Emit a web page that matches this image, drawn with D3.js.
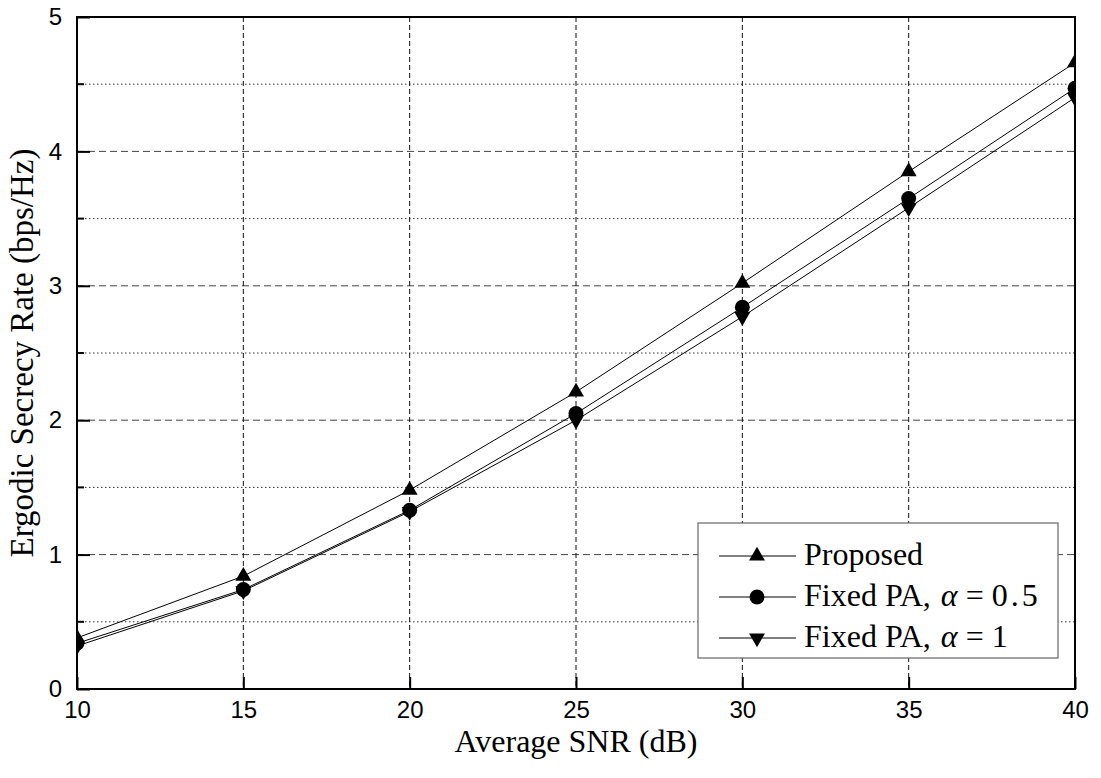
<!DOCTYPE html>
<html>
<head>
<meta charset="utf-8">
<script src="https://cdn.jsdelivr.net/npm/d3@7"></script>
<style>
  html, body { margin: 0; padding: 0; background: #fff; }
  svg { display: block; }
</style>
</head>
<body>
<svg id="chart" width="1101" height="778"></svg>
<script>
// Average SNR (dB) sample points
const snr = [10, 15, 20, 25, 30, 35, 40];
// Ergodic secrecy rate (bps/Hz) per scheme
const proposed  = [0.38, 0.84, 1.48, 2.21, 3.02, 3.85, 4.66];
const fixedHalf = [0.34, 0.74, 1.33, 2.05, 2.84, 3.65, 4.47];
const fixedOne  = [0.32, 0.73, 1.32, 2.00, 2.77, 3.58, 4.40];
// Tick values
const xTicks = [10, 15, 20, 25, 30, 35, 40];
const yTicks = [0, 1, 2, 3, 4, 5];
const yMinor = [0.5, 1.5, 2.5, 3.5, 4.5];

const series = [
  { name: "Proposed", values: proposed, marker: "up" },
  { name: "Fixed PA, ", alphaVal: "0.5", values: fixedHalf, marker: "circle" },
  { name: "Fixed PA, ", alphaVal: "1", values: fixedOne, marker: "down" }
];

const svg = d3.select("#chart");
const pLeft = 77, pRight = 1075, pTop = 17, pBottom = 689;

const x = d3.scaleLinear().domain([10, 40]).range([pLeft, pRight]);
const y = d3.scaleLinear().domain([0, 5]).range([pBottom, pTop]);

svg.append("defs").append("clipPath").attr("id", "plotClip")
  .append("rect").attr("x", pLeft).attr("y", pTop)
  .attr("width", pRight - pLeft).attr("height", pBottom - pTop);

// Grid: dotted minor rows, dashed major rows and columns
const grid = svg.append("g");
grid.selectAll(".ymin").data(yMinor).join("line")
  .attr("x1", pLeft).attr("x2", pRight)
  .attr("y1", d => y(d)).attr("y2", d => y(d))
  .attr("stroke", "#333").attr("stroke-width", 1)
  .attr("stroke-dasharray", "1.5,2.5");
grid.selectAll(".ymaj").data(yTicks.filter(d => d > 0 && d < 5)).join("line")
  .attr("x1", pLeft).attr("x2", pRight)
  .attr("y1", d => y(d)).attr("y2", d => y(d))
  .attr("stroke", "#444").attr("stroke-width", 1)
  .attr("stroke-dasharray", "7,4");
grid.selectAll(".xmaj").data(xTicks.filter(d => d > 10 && d < 40)).join("line")
  .attr("y1", pTop).attr("y2", pBottom)
  .attr("x1", d => x(d)).attr("x2", d => x(d))
  .attr("stroke", "#111").attr("stroke-width", 1)
  .attr("stroke-dasharray", "5,3");

// Series lines and markers
const line = d3.line().x((d, i) => x(snr[i])).y(d => y(d));
const plot = svg.append("g").attr("clip-path", "url(#plotClip)");

const tri = d3.symbol().type(d3.symbolTriangle).size(110);
const circ = d3.symbol().type(d3.symbolCircle).size(175);

function drawMarker(g, kind, cx, cy) {
  if (kind === "circle") {
    g.append("path").attr("d", circ()).attr("transform", `translate(${cx},${cy})`).attr("fill", "#000");
  } else if (kind === "up") {
    g.append("path").attr("d", tri()).attr("transform", `translate(${cx},${cy})`).attr("fill", "#000");
  } else {
    g.append("path").attr("d", tri()).attr("transform", `translate(${cx},${cy}) rotate(180)`).attr("fill", "#000");
  }
}

series.forEach(s => {
  plot.append("path").datum(s.values).attr("d", line)
    .attr("fill", "none").attr("stroke", "#000").attr("stroke-width", 1);
});
series.forEach(s => {
  s.values.forEach((v, i) => drawMarker(plot, s.marker, x(snr[i]), y(v)));
});

// Axes with inward ticks
const xAxis = d3.axisBottom(x).tickValues(xTicks).tickSize(-12).tickPadding(12).tickFormat(d3.format("d"));
const yAxis = d3.axisLeft(y).tickValues(yTicks).tickSize(-13).tickPadding(15).tickFormat(d3.format("d"));

const gx = svg.append("g").attr("transform", `translate(0,${pBottom})`).call(xAxis);
const gy = svg.append("g").attr("transform", `translate(${pLeft},0)`).call(yAxis);
[gx, gy].forEach(g => {
  g.select(".domain").remove();
  g.selectAll(".tick line").attr("stroke", "#000").attr("stroke-width", 2);
  g.selectAll(".tick text").attr("fill", "#000")
    .style("font-family", "'Liberation Sans', Arial, sans-serif").style("font-size", "24px");
});

// Minor y ticks
svg.append("g").selectAll("line").data(yMinor).join("line")
  .attr("x1", pLeft).attr("x2", pLeft + 7)
  .attr("y1", d => y(d)).attr("y2", d => y(d))
  .attr("stroke", "#000").attr("stroke-width", 2);

// Frame
svg.append("rect").attr("x", pLeft).attr("y", pTop)
  .attr("width", pRight - pLeft).attr("height", pBottom - pTop)
  .attr("fill", "none").attr("stroke", "#000").attr("stroke-width", 2);

// Axis titles
const serif = "'Liberation Serif', 'Times New Roman', serif";
svg.append("text").attr("x", (pLeft + pRight) / 2).attr("y", 752)
  .attr("text-anchor", "middle").style("font-family", serif).style("font-size", "32px")
  .text("Average SNR (dB)");
svg.append("text").attr("transform", `translate(33,${(pTop + pBottom) / 2}) rotate(-90)`)
  .attr("text-anchor", "middle").style("font-family", serif).style("font-size", "33px")
  .text("Ergodic Secrecy Rate (bps/Hz)");

// Legend
const lg = svg.append("g");
lg.append("rect").attr("x", 698).attr("y", 523).attr("width", 360).attr("height", 135)
  .attr("fill", "#fff").attr("stroke", "#666").attr("stroke-width", 1.2);
const rowY = [556, 597, 638];
series.forEach((s, i) => {
  const cy = rowY[i];
  lg.append("line").attr("x1", 719).attr("x2", 796).attr("y1", cy).attr("y2", cy)
    .attr("stroke", "#000").attr("stroke-width", 1);
  drawMarker(lg, s.marker, 757, cy);
  const t = lg.append("text").attr("x", 804).attr("y", cy + 9)
    .style("font-family", serif).style("font-size", "32px");
  t.append("tspan").text(s.name);
  if (s.alphaVal) {
    t.append("tspan").attr("dx", 2).style("font-style", "italic").text("\u03B1");
    t.append("tspan").text(" = ");
    t.append("tspan").style("letter-spacing", "3px").text(s.alphaVal);
  }
});
</script>
</body>
</html>
